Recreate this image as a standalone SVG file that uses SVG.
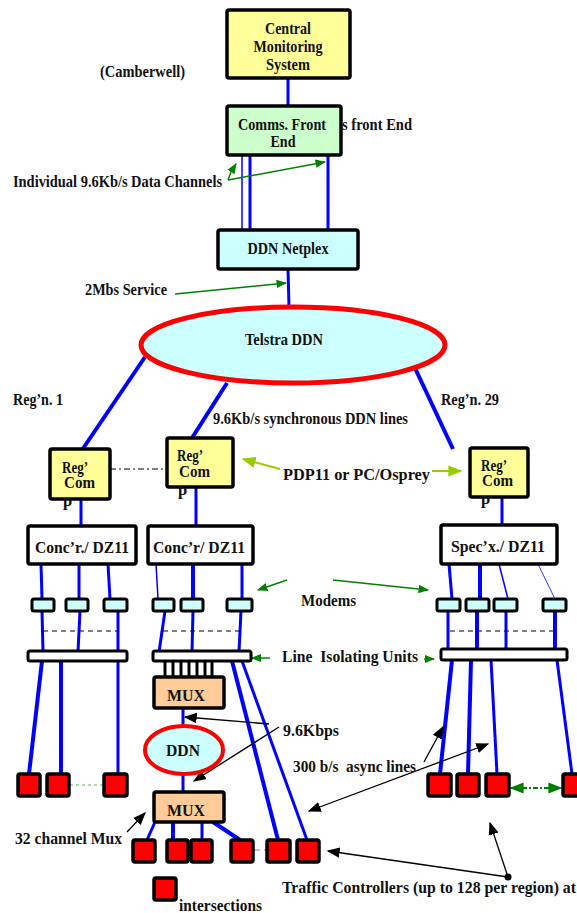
<svg xmlns="http://www.w3.org/2000/svg" width="577" height="913" viewBox="0 0 577 913">
<defs>
<style>
text{font-family:"Liberation Serif","Times New Roman","DejaVu Serif",serif;font-weight:bold;font-size:16.5px;fill:#111}
.c{text-anchor:middle}
.box{stroke:#000;stroke-width:3.5}
.b4{stroke:#0000ff;stroke-width:4;fill:none}
.b3{stroke:#0000ff;stroke-width:3;fill:none}
.b1{stroke:#0000ff;stroke-width:1.5;fill:none}
.b05{stroke:#0000ff;stroke-width:0.8;fill:none}
.g{stroke:#008000;stroke-width:1.5;fill:none}
.y{stroke:#99cc00;stroke-width:2;fill:none}
.k{stroke:#000;stroke-width:1.3;fill:none}
.tc{fill:#ff0000;stroke:#000;stroke-width:3.5}
.modem{fill:#ccffff;stroke:#000;stroke-width:3}
.dash{stroke:#000;stroke-width:1;stroke-dasharray:5 4;fill:none}
.gd{stroke:#008000;stroke-width:2;stroke-dasharray:2 2;fill:none}
</style>
<marker id="ga" viewBox="0 0 10 10" refX="9" refY="5" markerWidth="7" markerHeight="7" orient="auto-start-reverse"><path d="M0,1 L10,5 L0,9 z" fill="#008000"/></marker>
<marker id="ya" viewBox="0 0 10 10" refX="9" refY="5" markerWidth="7" markerHeight="7" orient="auto"><path d="M0,1 L10,5 L0,9 z" fill="#99cc00"/></marker>
<marker id="ka" viewBox="0 0 10 10" refX="9" refY="5" markerWidth="10" markerHeight="10" orient="auto-start-reverse"><path d="M0,1 L10,5 L0,9 z" fill="#000"/></marker>
</defs>

<g id="connectors">
<line class="b3" x1="288" y1="78" x2="288" y2="106"/>
<line class="b1" x1="242" y1="155" x2="242" y2="229"/>
<line class="b3" x1="250" y1="155" x2="250" y2="229"/>
<line class="b3" x1="328" y1="155" x2="328" y2="229"/>
<line class="b3" x1="288" y1="269" x2="289" y2="307"/>
<line class="b4" x1="145" y1="357" x2="82" y2="450"/>
<line class="b4" x1="227" y1="383" x2="192" y2="438"/>
<line class="b4" x1="415" y1="368" x2="453" y2="449"/>
<line stroke="#000" stroke-width="1.2" stroke-dasharray="6 3 2 3" x1="110" y1="469" x2="167" y2="469"/>
<line class="b3" x1="81" y1="499" x2="81" y2="526"/>
<line class="b3" x1="196" y1="487" x2="196" y2="526"/>
<line class="b3" x1="502" y1="497" x2="502" y2="525"/>
<line class="b3" x1="41" y1="564" x2="42" y2="599"/>
<line class="b3" x1="79" y1="564" x2="79" y2="599"/>
<line class="b3" x1="108" y1="564" x2="110" y2="599"/>
<line class="b1" x1="156" y1="564" x2="158" y2="599"/>
<line class="b4" x1="193" y1="564" x2="193" y2="599"/>
<line class="b3" x1="242" y1="564" x2="242" y2="599"/>
<line class="b3" x1="449" y1="564" x2="452" y2="599"/>
<line class="b4" x1="480" y1="564" x2="480" y2="599"/>
<line class="b1" x1="499" y1="564" x2="508" y2="599"/>
<line class="b05" x1="538" y1="564" x2="555" y2="599"/>
<line class="b3" x1="42" y1="611" x2="43" y2="652"/>
<line class="b3" x1="80" y1="611" x2="78" y2="652"/>
<line class="b3" x1="118" y1="611" x2="118" y2="652"/>
<line class="b3" x1="165" y1="611" x2="159" y2="652"/>
<line class="b3" x1="193" y1="611" x2="192" y2="652"/>
<line class="b3" x1="241" y1="611" x2="239" y2="652"/>
<line class="b3" x1="448" y1="611" x2="448" y2="649"/>
<line class="b4" x1="477" y1="611" x2="477" y2="649"/>
<line class="b3" x1="506" y1="611" x2="506" y2="649"/>
<line class="b4" x1="555" y1="611" x2="555" y2="649"/>
<line class="dash" x1="43" y1="631" x2="118" y2="631"/>
<line class="dash" x1="163" y1="631" x2="242" y2="631"/>
<line class="dash" x1="450" y1="631" x2="553" y2="631"/>
<line class="b4" x1="42" y1="661" x2="29" y2="774"/>
<line class="b4" x1="61" y1="661" x2="61" y2="774"/>
<line class="b3" x1="118" y1="661" x2="118" y2="774"/>
<g stroke="#000" stroke-width="3">
<line x1="165" y1="661" x2="165" y2="677"/>
<line x1="173" y1="661" x2="173" y2="677"/>
<line x1="181" y1="661" x2="181" y2="677"/>
<line x1="189" y1="661" x2="189" y2="677"/>
<line x1="197" y1="661" x2="197" y2="677"/>
<line x1="205" y1="661" x2="205" y2="677"/>
<line x1="212" y1="661" x2="212" y2="677"/>
</g>
<line class="b4" x1="232" y1="661" x2="278" y2="840"/>
<line class="b3" x1="242" y1="661" x2="307" y2="840"/>
<line class="b3" x1="183" y1="708" x2="183" y2="726"/>
<line class="b3" x1="183" y1="774" x2="183" y2="792"/>
<line class="b3" x1="155" y1="822" x2="147" y2="840"/>
<line class="b4" x1="173" y1="822" x2="173" y2="840"/>
<line class="b3" x1="202" y1="822" x2="202" y2="840"/>
<line class="b4" x1="213" y1="822" x2="240" y2="840"/>
<line class="b4" x1="452" y1="660" x2="440" y2="774"/>
<line class="b4" x1="471" y1="660" x2="468" y2="774"/>
<line class="b3" x1="491" y1="660" x2="497" y2="774"/>
<line class="b3" x1="557" y1="660" x2="572" y2="774"/>
<line stroke="#66aa66" stroke-width="1" stroke-dasharray="3 3" x1="70" y1="785" x2="103" y2="785"/>
<line stroke="#888" stroke-width="1" stroke-dasharray="6 4" x1="254" y1="850" x2="266" y2="850"/>
<line stroke="#008000" stroke-width="2" stroke-dasharray="5 2 2 2" x1="511" y1="788" x2="561" y2="788" marker-start="url(#ga)" marker-end="url(#ga)"/>
<line class="gd" x1="77" y1="652" x2="113" y2="652"/>
<line class="gd" x1="192" y1="652" x2="238" y2="652"/>
<line class="gd" x1="506" y1="651" x2="553" y2="651"/>
<polyline class="g" points="228,180 231,172 236,164" marker-end="url(#ga)"/>
<line class="g" x1="228" y1="180" x2="325" y2="162" marker-end="url(#ga)"/>
<line class="g" x1="175" y1="294" x2="286" y2="283" marker-end="url(#ga)"/>
<line class="g" x1="287" y1="580" x2="258" y2="590" marker-end="url(#ga)"/>
<line class="g" x1="333" y1="580" x2="428" y2="590" marker-end="url(#ga)"/>
<line class="g" x1="270" y1="658" x2="252" y2="658" marker-end="url(#ga)"/>
<line class="g" x1="424" y1="659" x2="434" y2="659" marker-end="url(#ga)"/>
<line class="y" x1="280" y1="469" x2="243" y2="459" marker-end="url(#ya)"/>
<line class="y" x1="432" y1="471" x2="461" y2="471" marker-end="url(#ya)"/>
<line class="k" x1="269" y1="724" x2="185" y2="717" marker-end="url(#ka)"/>
<line class="k" x1="279" y1="727" x2="194" y2="781" marker-end="url(#ka)"/>
<line class="k" x1="127" y1="832" x2="145" y2="813" marker-end="url(#ka)"/>
<line class="k" x1="424" y1="762" x2="443" y2="727" marker-end="url(#ka)"/>
<line class="k" x1="309" y1="811" x2="488" y2="744" marker-start="url(#ka)" marker-end="url(#ka)"/>
<line class="k" x1="508" y1="877" x2="328" y2="851" marker-end="url(#ka)"/>
<line class="k" x1="508" y1="877" x2="490" y2="823" marker-end="url(#ka)"/>
<circle cx="508" cy="877" r="3.5" fill="#000"/>
</g>

<g id="cms"><rect class="box" x="227" y="10" width="123" height="68" rx="2" fill="#ffff99"/>
<text class="c" x="288" y="34" textLength="46" lengthAdjust="spacingAndGlyphs">Central</text>
<text class="c" x="288" y="52" textLength="69" lengthAdjust="spacingAndGlyphs">Monitoring</text>
<text class="c" x="288" y="70" textLength="44" lengthAdjust="spacingAndGlyphs">System</text></g>
<g id="camberwell"><text x="100" y="77" textLength="85" lengthAdjust="spacingAndGlyphs">(Camberwell)</text></g>
<g id="cfe"><rect class="box" x="227" y="106" width="114" height="49" rx="2" fill="#ccffcc"/>
<text class="c" x="282" y="130" textLength="88" lengthAdjust="spacingAndGlyphs">Comms. Front</text>
<text class="c" x="283" y="147" textLength="25" lengthAdjust="spacingAndGlyphs">End</text></g>
<g id="cfe-label"><text x="342" y="130" textLength="70" lengthAdjust="spacingAndGlyphs">s front End</text></g>
<g id="channels-label"><text x="13" y="187" textLength="209" lengthAdjust="spacingAndGlyphs">Individual 9.6Kb/s Data Channels</text></g>
<g id="netplex"><rect class="box" x="218" y="230" width="140" height="39" rx="2" fill="#ccffff"/>
<text class="c" x="288" y="254" textLength="81" lengthAdjust="spacingAndGlyphs">DDN Netplex</text></g>
<g id="service-label"><text x="85" y="295" textLength="82" lengthAdjust="spacingAndGlyphs">2Mbs Service</text></g>
<g id="telstra"><ellipse cx="293" cy="345" rx="152" ry="38" fill="#ccffff" stroke="#ff0000" stroke-width="5"/>
<text class="c" x="284" y="345" textLength="78" lengthAdjust="spacingAndGlyphs">Telstra DDN</text></g>
<g id="region-labels">
<text x="13" y="405" textLength="50" lengthAdjust="spacingAndGlyphs">Reg’n. 1</text>
<text x="441" y="405" textLength="58" lengthAdjust="spacingAndGlyphs">Reg’n. 29</text>
<text x="213" y="424" textLength="195" lengthAdjust="spacingAndGlyphs">9.6Kb/s synchronous DDN lines</text></g>

<g id="regcom1"><rect class="box" x="50" y="449" width="60" height="50" rx="2" fill="#ffff99"/>
<text x="62" y="473" textLength="26" lengthAdjust="spacingAndGlyphs">Reg’</text>
<text x="64" y="488" textLength="31" lengthAdjust="spacingAndGlyphs">Com</text>
<text x="63" y="506">p</text></g>
<g id="regcom2"><rect class="box" x="167" y="438" width="66" height="49" rx="2" fill="#ffff99"/>
<text x="177" y="461" textLength="26" lengthAdjust="spacingAndGlyphs">Reg’</text>
<text x="179" y="477" textLength="31" lengthAdjust="spacingAndGlyphs">Com</text>
<text x="178" y="495">p</text></g>
<g id="regcom29"><rect class="box" x="470" y="448" width="58" height="49" rx="2" fill="#ffff99"/>
<text x="481" y="471" textLength="26" lengthAdjust="spacingAndGlyphs">Reg’</text>
<text x="482" y="486" textLength="31" lengthAdjust="spacingAndGlyphs">Com</text>
<text x="481" y="504">p</text></g>
<g id="pdp-label"><text x="283" y="480" textLength="147" lengthAdjust="spacingAndGlyphs">PDP11 or PC/Osprey</text></g>

<g id="conc1"><rect class="box" x="28" y="526" width="108" height="38" rx="2" fill="#fff"/>
<text class="c" x="82" y="553" textLength="94" lengthAdjust="spacingAndGlyphs">Conc’r./ DZ11</text></g>
<g id="conc2"><rect class="box" x="148" y="526" width="105" height="38" rx="2" fill="#fff"/>
<text class="c" x="199" y="553" textLength="92" lengthAdjust="spacingAndGlyphs">Conc’r/ DZ11</text></g>
<g id="spec29"><rect class="box" x="441" y="525" width="116" height="39" rx="2" fill="#fff"/>
<text class="c" x="498" y="552" textLength="94" lengthAdjust="spacingAndGlyphs">Spec’x./ DZ11</text></g>

<g id="modems">
<rect class="modem" x="32" y="599" width="22" height="12" rx="2"/>
<rect class="modem" x="66" y="599" width="22" height="12" rx="2"/>
<rect class="modem" x="104" y="599" width="23" height="12" rx="2"/>
<rect class="modem" x="153" y="599" width="21" height="12" rx="2"/>
<rect class="modem" x="181" y="599" width="22" height="12" rx="2"/>
<rect class="modem" x="227" y="599" width="25" height="12" rx="2"/>
<rect class="modem" x="437" y="599" width="23" height="12" rx="2"/>
<rect class="modem" x="466" y="599" width="23" height="12" rx="2"/>
<rect class="modem" x="494" y="599" width="23" height="12" rx="2"/>
<rect class="modem" x="543" y="599" width="23" height="12" rx="2"/>
</g>
<g id="modems-label"><text x="301" y="606" textLength="55" lengthAdjust="spacingAndGlyphs">Modems</text></g>

<g id="liu1"><rect x="28" y="651" width="99" height="10" rx="2" fill="#fff" stroke="#000" stroke-width="3"/></g>
<g id="liu2"><rect x="153" y="651" width="98" height="10" rx="2" fill="#fff" stroke="#000" stroke-width="3"/></g>
<g id="liu29"><rect x="441" y="649" width="126" height="11" rx="2" fill="#fff" stroke="#000" stroke-width="3"/></g>
<g id="liu-label"><text x="282" y="662" xml:space="preserve" textLength="136" lengthAdjust="spacingAndGlyphs">Line  Isolating Units</text></g>

<g id="mux1"><rect class="box" x="154" y="677" width="70" height="31" rx="2" fill="#ffcc99"/>
<text class="c" x="186" y="701" textLength="38" lengthAdjust="spacingAndGlyphs">MUX</text></g>
<g id="ddn"><ellipse cx="184" cy="750" rx="39" ry="24" fill="#ccffff" stroke="#ff0000" stroke-width="4"/>
<text class="c" x="183" y="756" textLength="34" lengthAdjust="spacingAndGlyphs">DDN</text></g>
<g id="mux2"><rect class="box" x="154" y="792" width="70" height="30" rx="2" fill="#ffcc99"/>
<text class="c" x="186" y="816" textLength="38" lengthAdjust="spacingAndGlyphs">MUX</text></g>

<g id="tc">
<rect class="tc" x="18" y="774" width="22" height="22" rx="2"/>
<rect class="tc" x="47" y="774" width="22" height="22" rx="2"/>
<rect class="tc" x="104" y="774" width="23" height="22" rx="2"/>
<rect class="tc" x="133" y="840" width="22" height="22" rx="2"/>
<rect class="tc" x="167" y="840" width="21" height="22" rx="2"/>
<rect class="tc" x="191" y="840" width="21" height="22" rx="2"/>
<rect class="tc" x="231" y="840" width="22" height="22" rx="2"/>
<rect class="tc" x="267" y="840" width="23" height="22" rx="2"/>
<rect class="tc" x="297" y="840" width="22" height="22" rx="2"/>
<rect class="tc" x="428" y="774" width="23" height="22" rx="2"/>
<rect class="tc" x="457" y="774" width="22" height="22" rx="2"/>
<rect class="tc" x="486" y="774" width="23" height="22" rx="2"/>
<rect class="tc" x="563" y="774" width="22" height="22" rx="2"/>
<rect class="tc" x="154" y="878" width="22" height="22" rx="2"/>
</g>

<g id="labels-bottom">
<text x="283" y="736" textLength="56" lengthAdjust="spacingAndGlyphs">9.6Kbps</text>
<text x="293" y="772" xml:space="preserve" textLength="123" lengthAdjust="spacingAndGlyphs">300 b/s  async lines</text>
<text x="15" y="844" textLength="107" lengthAdjust="spacingAndGlyphs">32 channel Mux</text>
<text x="282" y="893" textLength="294" lengthAdjust="spacingAndGlyphs">Traffic Controllers (up to 128 per region) at</text>
<text x="179" y="911" textLength="83" lengthAdjust="spacingAndGlyphs">intersections</text>
</g>
</svg>
